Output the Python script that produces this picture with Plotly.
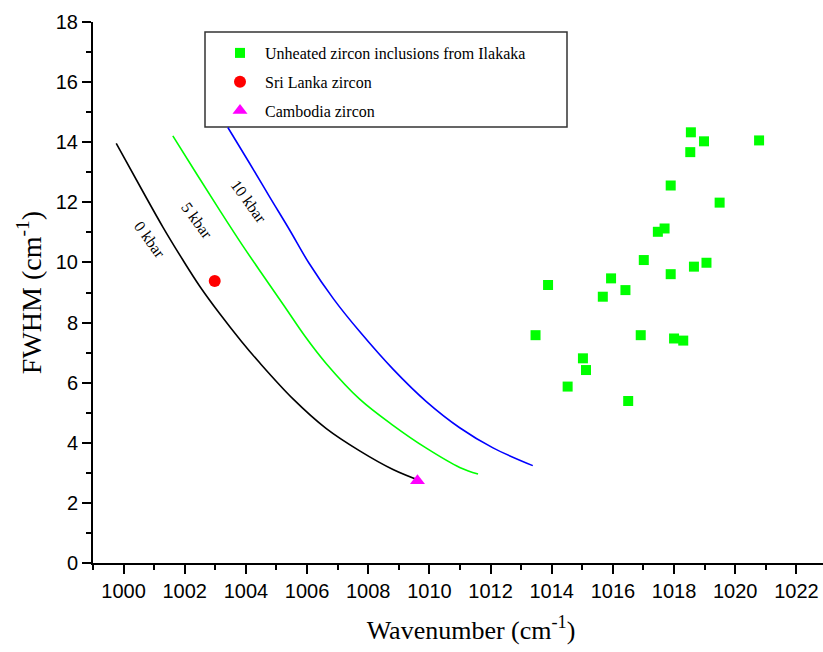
import plotly.graph_objects as go

# Unheated zircon inclusions from Ilakaka
ilakaka_x = [1018.55, 1018.98, 1020.78, 1018.53, 1017.89, 1019.49, 1017.69, 1017.47,
             1017.01, 1019.06, 1018.65, 1017.89, 1015.94, 1013.88, 1016.41, 1015.67,
             1013.47, 1016.91, 1018.00, 1018.30, 1015.02, 1015.12, 1014.52, 1016.50]
ilakaka_y = [14.33, 14.03, 14.06, 13.67, 12.56, 11.99, 11.13, 11.02,
             10.08, 9.99, 9.86, 9.61, 9.47, 9.25, 9.08, 8.86,
             7.58, 7.58, 7.47, 7.40, 6.81, 6.42, 5.87, 5.39]

srilanka_x = [1002.98]
srilanka_y = [9.38]

cambodia_x = [1009.61]
cambodia_y = [2.74]

# Pressure calibration curves
k0_x = [999.76, 1000.63, 1001.29, 1001.94, 1002.49, 1003.14, 1003.85, 1004.45, 1005.54, 1006.63, 1007.72, 1008.81, 1009.74]
k0_y = [13.96, 12.36, 11.17, 10.08, 9.21, 8.30, 7.38, 6.66, 5.46, 4.47, 3.73, 3.11, 2.72]

k5_x = [1001.61, 1002.38, 1003.14, 1003.90, 1004.67, 1005.32, 1005.92, 1006.63, 1007.72, 1008.81, 1009.90, 1010.99, 1011.59]
k5_y = [14.21, 12.96, 11.74, 10.55, 9.41, 8.45, 7.56, 6.63, 5.45, 4.58, 3.82, 3.18, 2.96]

k10_x = [1003.41, 1004.12, 1004.77, 1005.43, 1006.06, 1006.87, 1007.72, 1008.81, 1009.90, 1010.99, 1012.08, 1013.38]
k10_y = [14.49, 13.30, 12.19, 11.08, 9.98, 8.78, 7.70, 6.45, 5.37, 4.50, 3.83, 3.24]

curve_labels = ["0 kbar", "5 kbar", "10 kbar"]
label_x = [1000.85, 1002.41, 1004.09]
label_y = [10.75, 11.41, 12.02]

x_ticks = list(range(1000, 1023, 2))
y_ticks = list(range(0, 19, 2))

serif = "Liberation Serif, Times New Roman, serif"
narrow = "Liberation Sans Narrow, Arial Narrow, Liberation Sans, Arial, sans-serif"

fig = go.Figure()

for xs, ys, col in [(k0_x, k0_y, "black"), (k5_x, k5_y, "#00FF00"), (k10_x, k10_y, "#0000FF")]:
    fig.add_trace(go.Scatter(x=xs, y=ys, mode="lines",
                             line=dict(color=col, width=1.6, shape="spline", smoothing=1.0),
                             showlegend=False, hoverinfo="skip"))

fig.add_trace(go.Scatter(x=ilakaka_x, y=ilakaka_y, mode="markers",
                         name="Unheated zircon inclusions from Ilakaka", legendgroup="a",
                         marker=dict(symbol="square", size=10, color="#00FF00")))
fig.add_trace(go.Scatter(x=srilanka_x, y=srilanka_y, mode="markers",
                         name="Sri Lanka zircon", legendgroup="b",
                         marker=dict(symbol="circle", size=12, color="#FF0000")))
fig.add_trace(go.Scatter(x=cambodia_x, y=cambodia_y, mode="markers",
                         name="Cambodia zircon", legendgroup="c",
                         marker=dict(symbol="triangle-up", size=13, color="#FF00FF")))

for t, lx, ly in zip(curve_labels, label_x, label_y):
    fig.add_annotation(x=lx, y=ly, text=t, showarrow=False, textangle=54,
                       font=dict(family=serif, size=16, color="black"))

# legend frame
fig.add_shape(type="rect", xref="paper", yref="paper",
              x0=(205 - 93) / 730, x1=(567 - 93) / 730,
              y0=(563 - 127) / 541, y1=(563 - 32) / 541,
              line=dict(color="#333333", width=1.5), fillcolor="white", layer="below")

fig.update_layout(
    width=823, height=652,
    margin=dict(l=93, r=0, t=22, b=89),
    plot_bgcolor="white", paper_bgcolor="white",
    showlegend=True,
    legend=dict(x=(215 - 93) / 730, y=(563 - 36) / 541, xanchor="left", yanchor="top",
                bgcolor="rgba(0,0,0,0)", borderwidth=0,
                font=dict(family=serif, size=16, color="black"),
                tracegroupgap=5, itemwidth=40),
    xaxis=dict(range=[999, 1022.87], tickvals=x_ticks, ticktext=[str(v) for v in x_ticks],
               showgrid=False, zeroline=False, showline=True, linecolor="black", linewidth=2,
               ticks="outside", ticklen=9, tickwidth=1.5, tickcolor="black",
               tickfont=dict(family=narrow, size=20, color="black"),
               minor=dict(tickvals=list(range(999, 1023, 2)), ticks="outside", ticklen=5,
                          tickwidth=1.5, tickcolor="black"),
               title=dict(text="&nbsp;&nbsp;&nbsp;&nbsp;Wavenumber (cm<sup>-1</sup>)",
                          font=dict(family=serif, size=26, color="black"), standoff=20)),
    yaxis=dict(range=[0, 18], tickvals=y_ticks, ticktext=[str(v) for v in y_ticks],
               showgrid=False, zeroline=False, showline=True, linecolor="black", linewidth=2,
               ticks="outside", ticklen=9, tickwidth=1.5, tickcolor="black",
               tickfont=dict(family=narrow, size=20, color="black"),
               minor=dict(tickvals=list(range(1, 18, 2)), ticks="outside", ticklen=5,
                          tickwidth=1.5, tickcolor="black"),
               title=dict(text="FWHM (cm<sup>-1</sup>)", font=dict(family=serif, size=28, color="black"),
                          standoff=6)),
)

fig.write_html("out.html")
